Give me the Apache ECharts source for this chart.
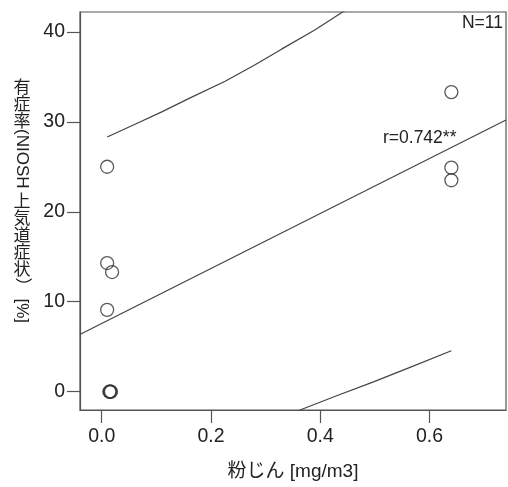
<!DOCTYPE html>
<html>
<head>
<meta charset="utf-8">
<script src="https://cdn.jsdelivr.net/npm/echarts@6/dist/echarts.min.js"></script>
<style>html,body{margin:0;padding:0;background:#fff;}#c{width:508px;height:487px;}</style>
</head>
<body>
<div id="c"></div>
<script>
// Data
var dustX = [0.010, 0.010, 0.019, 0.010, 0.014, 0.015, 0.016, 0.017, 0.640, 0.640, 0.640];
var rateY = [25.0, 14.3, 13.3, 9.1, 0.0, 0.0, 0.0, 0.0, 33.3, 24.9, 23.5];
var fitX = [-0.04, 0.74];
var fitY = [6.37, 30.2];
var upperX = [0.010, 0.060, 0.110, 0.160, 0.226, 0.280, 0.330, 0.390, 0.441, 0.500, 0.640];
var upperY = [28.3, 29.7, 31.1, 32.6, 34.5, 36.3, 38.1, 40.2, 42.2, 44.4, 49.6];
var lowerX = [0.300, 0.363, 0.430, 0.4975, 0.570, 0.640];
var lowerY = [-3.5, -2.03, -0.45, 1.1, 2.85, 4.56];
var xTicks = [0, 0.2, 0.4, 0.6];
var yTicks = [0, 10, 20, 30, 40];
var xName = '粉じん [mg/m3]';
var nLabel = 'N=11';
var rLabel = 'r=0.742**';

function pairs(xs, ys) { return xs.map(function (x, i) { return [x, ys[i]]; }); }

var FONT = '"Liberation Sans", Arial, sans-serif';
var TXT = '#222';
var AX = '#555';

// vertical y-axis title pieces (upright CJK, rotated Latin)
var yTitle = [
  {t: '有症率', up: true},
  {t: '(NIOSH', up: false},
  {t: '上気道症状', up: true},
  {t: '）', up: false},
  {t: '[%]', up: false}
];

var chart = echarts.init(document.getElementById('c'), null, {renderer: 'canvas'});

function buildTitle() {
  var fs = 17;
  var cx = 22;
  var y = 78;
  var els = [];
  var tmp = document.createElement('canvas').getContext('2d');
  yTitle.forEach(function (seg) {
    if (seg.up) {
      seg.t.split('').forEach(function (ch) {
        els.push({type: 'text', x: cx, y: y, style: {text: ch, fill: TXT, font: fs + 'px "Noto Sans CJK JP", sans-serif', align: 'center', verticalAlign: 'top'}});
        y += fs;
      });
    } else {
      var f = fs + 'px ' + FONT + ', "Noto Sans CJK JP"';
      tmp.font = f;
      var w = tmp.measureText(seg.t).width;
      els.push({type: 'text', x: cx, y: y, rotation: -Math.PI / 2,
        style: {text: seg.t, fill: TXT, font: f, align: 'left', verticalAlign: 'middle'}});
      y += w + 4;
    }
  });
  return els;
}

var lineStyle = {color: '#444', width: 1.2};

chart.setOption({
  animation: false,
  backgroundColor: '#fff',
  grid: {left: 80, right: 2, top: 12, bottom: 77, show: true, borderColor: AX, borderWidth: 1.2, backgroundColor: 'transparent'},
  xAxis: {
    type: 'value', min: -0.0397, max: 0.740,
    name: xName, nameLocation: 'middle', nameGap: 52,
    nameTextStyle: {fontSize: 19, color: TXT, fontFamily: '"Liberation Sans", "Noto Sans CJK JP", sans-serif'},
    axisLine: {show: true, onZero: false, lineStyle: {color: AX, width: 1.2}},
    axisTick: {show: true, inside: false, length: 13, customValues: xTicks, lineStyle: {color: AX, width: 1.2}},
    axisLabel: {customValues: xTicks, margin: 17, fontSize: 19.5, color: TXT, fontFamily: FONT, formatter: function (v) { return v.toFixed(1); }},
    splitLine: {show: false}
  },
  yAxis: {
    type: 'value', min: -2.03, max: 42.2,
    axisLine: {show: true, onZero: false, lineStyle: {color: AX, width: 1.2}},
    axisTick: {show: true, inside: false, length: 13, customValues: yTicks, lineStyle: {color: AX, width: 1.2}},
    axisLabel: {customValues: yTicks, margin: 15, fontSize: 19.5, color: TXT, fontFamily: FONT},
    splitLine: {show: false}
  },
  graphic: buildTitle().concat([
    {type: 'text', right: 5, top: 14, style: {text: nLabel, fill: TXT, font: '17.5px ' + FONT}},
    {type: 'text', left: 383, top: 129, style: {text: rLabel, fill: TXT, font: '17.5px ' + FONT}}
  ]),
  series: [
    {type: 'line', data: pairs(fitX, fitY), showSymbol: false, lineStyle: lineStyle, clip: true, silent: true},
    {type: 'line', data: pairs(upperX, upperY), showSymbol: false, lineStyle: lineStyle, clip: true, silent: true},
    {type: 'line', data: pairs(lowerX, lowerY), showSymbol: false, lineStyle: lineStyle, clip: true, silent: true},
    {type: 'scatter', data: pairs(dustX, rateY), symbol: 'circle', symbolSize: 13,
      itemStyle: {color: 'rgba(255,255,255,0)', borderColor: '#333', borderWidth: 1.3}}
  ]
});
</script>
</body>
</html>
